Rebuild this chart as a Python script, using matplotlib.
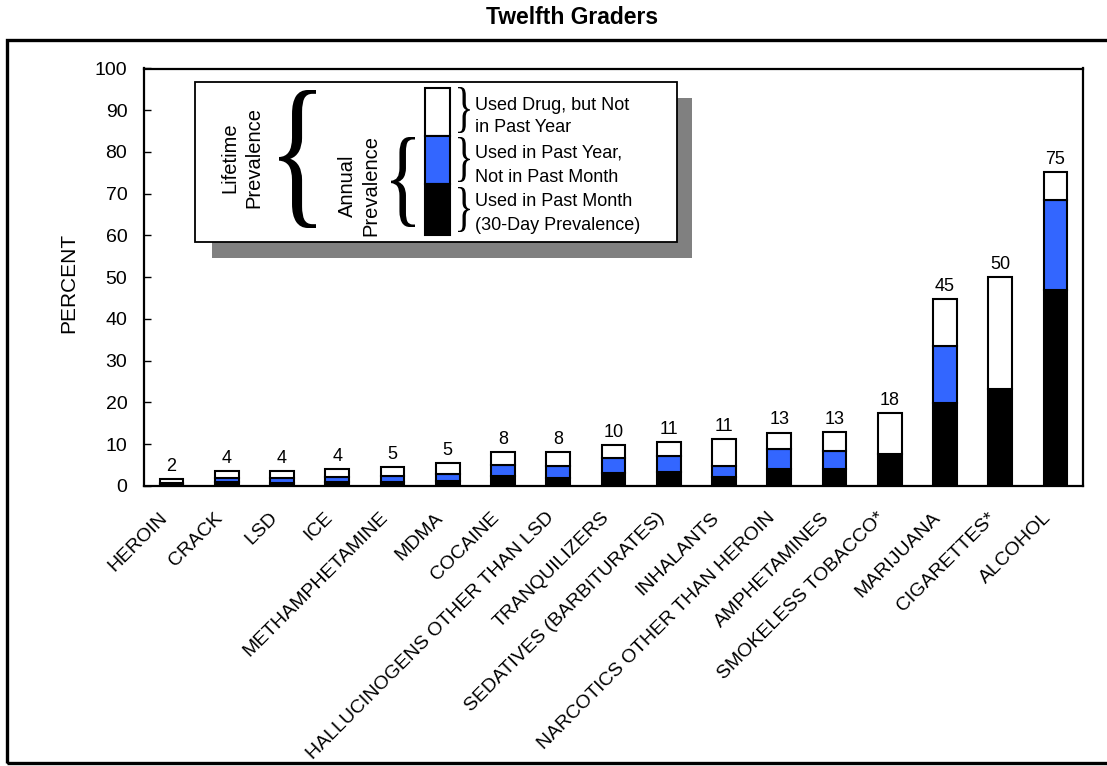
import matplotlib
matplotlib.use("Agg")
import matplotlib.pyplot as plt
from matplotlib.patches import Rectangle, PathPatch
from matplotlib.textpath import TextPath
from matplotlib.font_manager import FontProperties
from matplotlib.transforms import Affine2D, ScaledTranslation
import numpy as np

# ---------------- data ----------------
categories = ["HEROIN", "CRACK", "LSD", "ICE", "METHAMPHETAMINE", "MDMA", "COCAINE",
              "HALLUCINOGENS OTHER THAN LSD", "TRANQUILIZERS", "SEDATIVES (BARBITURATES)",
              "INHALANTS", "NARCOTICS OTHER THAN HEROIN", "AMPHETAMINES",
              "SMOKELESS TOBACCO*", "MARIJUANA", "CIGARETTES*", "ALCOHOL"]
past_month = [0.5, 1.0, 0.8, 1.0, 1.0, 1.2, 2.4, 1.8, 3.0, 3.4, 2.1, 4.0, 4.0, 7.7, 19.9, 23.3, 47.0]
past_year = [0.8, 1.8, 1.9, 2.2, 2.5, 2.9, 5.1, 4.9, 6.7, 7.1, 4.9, 8.9, 8.5, None, 33.6, None, 68.6]
lifetime = [1.6, 3.6, 3.6, 4.0, 4.5, 5.4, 8.1, 8.1, 9.8, 10.5, 11.3, 12.8, 13.0, 17.5, 44.8, 50.0, 75.1]
value_labels = ["2", "4", "4", "4", "5", "5", "8", "8", "10", "11", "11", "13", "13", "18", "45", "50", "75"]
y_ticks = [0, 10, 20, 30, 40, 50, 60, 70, 80, 90, 100]

legend_lines = ["Used Drug, but Not", "in Past Year", "Used in Past Year,",
                "Not in Past Month", "Used in Past Month", "(30-Day Prevalence)"]

# ---------------- figure ----------------
W, H = 1107, 766
plt.rcParams['font.family'] = ['Liberation Sans', 'DejaVu Sans']
fig = plt.figure(figsize=(W / 100, H / 100), dpi=100)


def fx(px):
    return px / W


def fy(py):
    return 1 - py / H


ax = fig.add_axes([fx(144), fy(486), fx(1083) - fx(144), fy(68.5) - fy(486)])

x = np.arange(len(categories))
month = np.array(past_month, dtype=float)
annual = np.array([v if v is not None else m for v, m in zip(past_year, past_month)], dtype=float)
life = np.array(lifetime, dtype=float)

bw = 0.43
lw = 1.5
ax.bar(x, month, bw, color='black', edgecolor='black', linewidth=lw, zorder=2)
ax.bar(x, annual - month, bw, bottom=month, color='#3366FF', edgecolor='black', linewidth=lw, zorder=2)
ax.bar(x, life - annual, bw, bottom=annual, color='white', edgecolor='black', linewidth=lw, zorder=2)

for xi, li, lab in zip(x, life, value_labels):
    ax.annotate(lab, (xi, li), xytext=(0, 3), textcoords='offset points',
                ha='center', va='bottom', fontsize=13)

ax.set_xlim(-0.5, len(categories) - 0.5)
ax.set_ylim(0, 100)
ax.set_yticks(y_ticks)
ax.tick_params(axis='y', direction='in', length=5, width=1, labelsize=14, pad=12)
ax.set_xticks(x)
ax.set_xticklabels(categories, rotation=45, ha='right', va='center',
                   rotation_mode='anchor', fontsize=14)
ax.tick_params(axis='x', length=0, pad=21)
shift = ScaledTranslation(-7 / 100, 0, fig.dpi_scale_trans)
for lbl in ax.get_xticklabels():
    lbl.set_transform(lbl.get_transform() + shift)
for s in ax.spines.values():
    s.set_linewidth(1.6)

fig.text(fx(69), fy(283), 'PERCENT', rotation=90, ha='center', va='center', fontsize=15)
fig.text(fx(572), fy(17), 'Twelfth Graders', ha='center', va='center',
         fontsize=16.5, fontweight='bold')

# outer frame
fig.add_artist(Rectangle((fx(7), fy(763)), fx(1120) - fx(7), fy(40) - fy(763),
                         transform=fig.transFigure, fill=False, edgecolor='black',
                         linewidth=2.4, clip_on=False, zorder=1))

# ---------------- legend ----------------
def frect(x0, y0, x1, y1, **kw):
    r = Rectangle((fx(x0), fy(y1)), fx(x1) - fx(x0), fy(y0) - fy(y1),
                  transform=fig.transFigure, clip_on=False, **kw)
    fig.add_artist(r)
    return r


frect(212, 98, 692, 258, facecolor='#808080', edgecolor='none', zorder=10)
frect(195, 82, 677, 242, facecolor='white', edgecolor='black', linewidth=1.3, zorder=11)

frect(425, 88, 450, 136, facecolor='white', edgecolor='black', linewidth=1.5, zorder=12)
frect(425, 136, 450, 184, facecolor='#3366FF', edgecolor='black', linewidth=1.5, zorder=12)
frect(425, 184, 450, 235, facecolor='black', edgecolor='black', linewidth=1.5, zorder=12)


def brace(ch, x0, y0, x1, y1):
    tp = TextPath((0, 0), ch, size=100, prop=FontProperties(family='Liberation Serif'))
    ext = tp.get_extents()
    t = (Affine2D().translate(-ext.x0, -ext.y0)
         .scale((x1 - x0) / ext.width, (y1 - y0) / ext.height)
         .translate(x0, H - y1)
         .scale(1 / W, 1 / H))
    fig.add_artist(PathPatch(tp, transform=t + fig.transFigure, facecolor='black',
                             edgecolor='none', zorder=12, clip_on=False))


brace('{', 279, 90, 316, 228)
brace('{', 391, 137, 415, 227)
brace('}', 458, 87, 470, 133)
brace('}', 458, 137, 470, 182)
brace('}', 458, 187, 470, 232)

fig.text(fx(242), fy(158), 'Lifetime\nPrevalence', rotation=90, ha='center', va='center',
         multialignment='center', fontsize=14.5, linespacing=1.3, zorder=13)
fig.text(fx(359), fy(186), 'Annual\nPrevalence', rotation=90, ha='center', va='center',
         multialignment='center', fontsize=14.5, linespacing=1.3, zorder=13)

for yy, line in zip([105, 128, 153, 177, 202, 225], legend_lines):
    fig.text(fx(475), fy(yy), line, ha='left', va='center', fontsize=13, zorder=13)

fig.savefig('out.png', dpi=100)
